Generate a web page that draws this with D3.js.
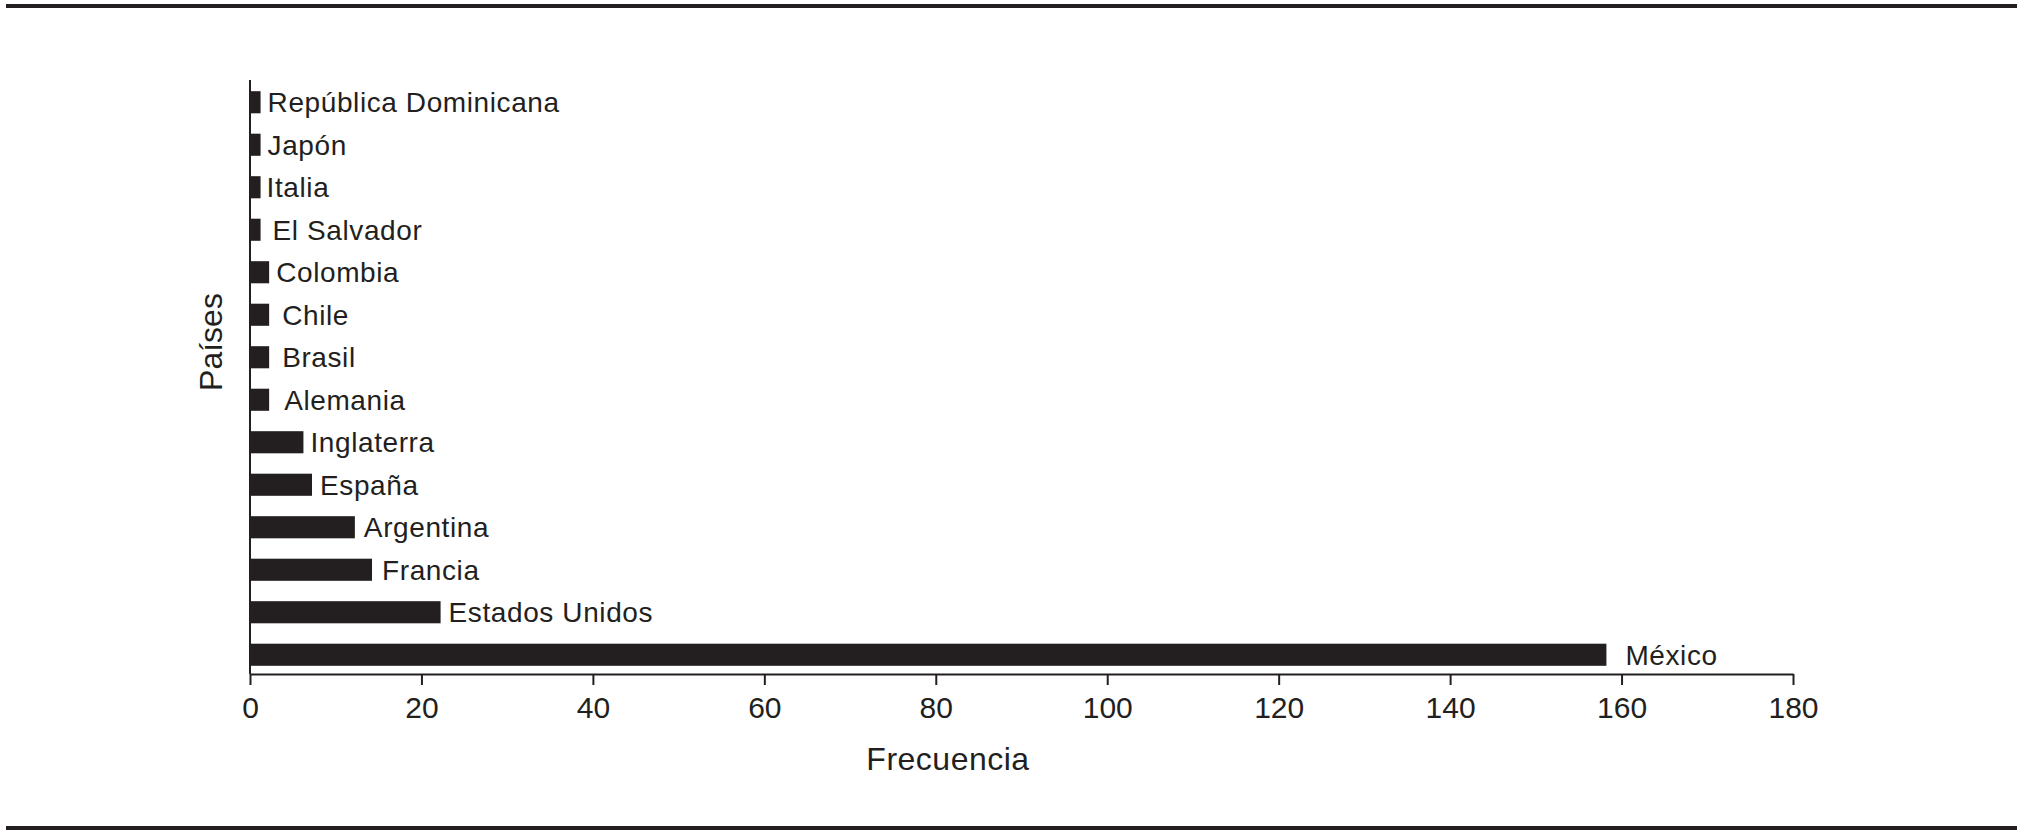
<!DOCTYPE html>
<html>
<head>
<meta charset="utf-8">
<script src="https://cdn.jsdelivr.net/npm/d3@7"></script>
<style>
  html, body { margin: 0; padding: 0; background: #ffffff; }
  svg { display: block; }
  text { font-family: "Liberation Sans", Arial, Helvetica, sans-serif; fill: #231f20; }
</style>
</head>
<body>
<svg id="chart" width="2025" height="835"></svg>
<script>
// ---- data ----
const countries = ["República Dominicana", "Japón", "Italia", "El Salvador", "Colombia", "Chile",
  "Brasil", "Alemania", "Inglaterra", "España", "Argentina", "Francia", "Estados Unidos", "México"];
const frequencies = [1, 1, 1, 1, 2, 2, 2, 2, 6, 7, 12, 14, 22, 158];
const xTicks = [0, 20, 40, 60, 80, 100, 120, 140, 160, 180];
const xTitle = "Frecuencia";
const yTitle = "Países";

// ---- layout (not data) ----
const labelGap = [9, 9, 8, 14, 9, 15, 15, 17, 9, 10, 11, 12, 10, 21];
const ink = "#231f20";

const svg = d3.select("#chart");

const x = d3.scaleLinear().domain([0, 180]).range([250, 1793]);
const y = d3.scaleBand().domain(countries).range([81, 676]).paddingInner(0.48).paddingOuter(0.24);

// rules top and bottom
svg.append("rect").attr("x", 6).attr("y", 4).attr("width", 2011).attr("height", 4).attr("fill", ink);
svg.append("rect").attr("x", 6).attr("y", 826).attr("width", 2011).attr("height", 4).attr("fill", ink);

// x axis
const xAxis = d3.axisBottom(x).tickValues(xTicks).tickSize(11).tickSizeOuter(0).tickPadding(12);
const gx = svg.append("g").attr("transform", "translate(0,674)").call(xAxis);
gx.select(".domain").attr("stroke", ink).attr("stroke-width", 2);
gx.selectAll(".tick line").attr("stroke", ink).attr("stroke-width", 2);
gx.selectAll(".tick text")
  .attr("font-size", 30)
  .attr("font-family", "'Liberation Sans', Arial, Helvetica, sans-serif")
  .attr("fill", ink);

// y axis line
svg.append("line").attr("x1", x(0)).attr("x2", x(0)).attr("y1", 80).attr("y2", 674)
  .attr("stroke", ink).attr("stroke-width", 2);

// bars
svg.append("g").selectAll("rect").data(countries).join("rect")
  .attr("x", x(0) - 1)
  .attr("y", d => y(d))
  .attr("width", (d, i) => x(frequencies[i]) - x(0) + 3)
  .attr("height", y.bandwidth())
  .attr("fill", ink);

// labels
svg.append("g").selectAll("text").data(countries).join("text")
  .attr("x", (d, i) => x(frequencies[i]) + labelGap[i])
  .attr("y", d => y(d) + y.bandwidth() / 2)
  .attr("dy", "0.36em")
  .attr("font-size", 28)
  .attr("letter-spacing", "0.6px")
  .text(d => d);

// axis titles
svg.append("text").attr("x", 948).attr("y", 770).attr("text-anchor", "middle")
  .attr("font-size", 32).attr("letter-spacing", "0.5px").text(xTitle);
svg.append("text").attr("transform", "translate(222,342) rotate(-90)").attr("text-anchor", "middle")
  .attr("font-size", 32).text(yTitle);
</script>
</body>
</html>
